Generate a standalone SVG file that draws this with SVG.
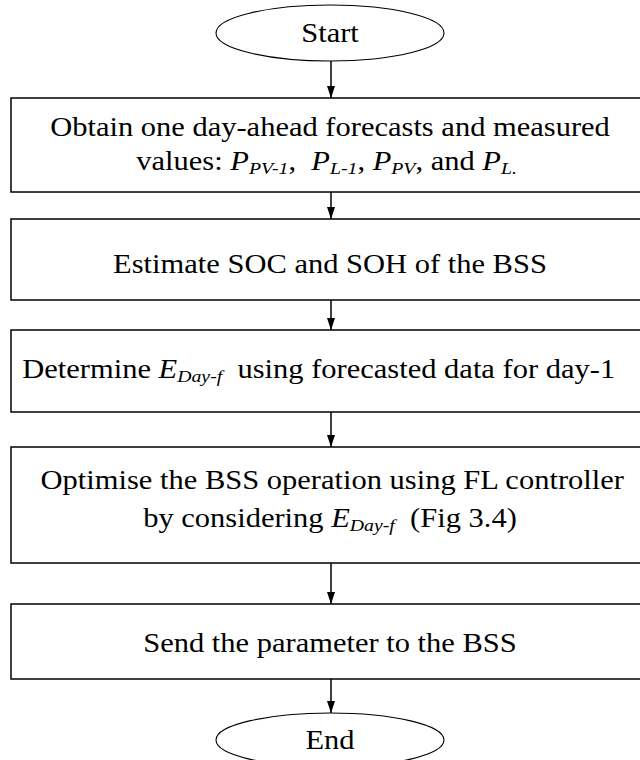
<svg xmlns="http://www.w3.org/2000/svg" width="640" height="760" viewBox="0 0 640 760">
<style>
.box{fill:#fff;stroke:#000;stroke-width:1.5}
.term{fill:#fff;stroke:#000;stroke-width:1.1}
.t{font-family:"Liberation Serif","Times New Roman",serif;font-size:27px;fill:#000;text-anchor:middle}
.i{font-style:italic}
.s{font-style:italic;font-size:17.5px}
.conn line{stroke:#000;stroke-width:1.5}
</style>
<defs>
<marker id="ah" viewBox="0 0 12 8" refX="12" refY="4" markerWidth="12" markerHeight="8" markerUnits="userSpaceOnUse" orient="auto">
<path d="M0,0 L12,4 L0,8 z" fill="#000"/>
</marker>
</defs>
<rect width="640" height="760" fill="#fff"/>
<g id="start">
<ellipse class="term" cx="330" cy="33" rx="114" ry="28"/>
<text class="t" x="330" y="42" transform="matrix(1.13,0,0,1,-42.9,0)">Start</text>
</g>
<g id="obtain">
<rect class="box" x="11" y="98" width="640" height="94"/>
<text class="t" x="330" y="136" transform="matrix(1.13,0,0,1,-42.9,0)">Obtain one day-ahead forecasts and measured</text>
<text class="t" x="327" y="170" transform="matrix(1.13,0,0,1,-42.9,0)">values: <tspan class="i">P</tspan><tspan class="s" dy="4.5">PV-1</tspan><tspan dy="-4.5">,&#160; </tspan><tspan class="i">P</tspan><tspan class="s" dy="4.5">L-1</tspan><tspan dy="-4.5">, </tspan><tspan class="i">P</tspan><tspan class="s" dy="4.5">PV</tspan><tspan dy="-4.5">, and </tspan><tspan class="i">P</tspan><tspan class="s" dy="4.5">L.</tspan></text>
</g>
<g id="estimate">
<rect class="box" x="11" y="219" width="640" height="81"/>
<text class="t" x="330" y="273" transform="matrix(1.13,0,0,1,-42.9,0)">Estimate SOC and SOH of the BSS</text>
</g>
<g id="determine">
<rect class="box" x="11" y="330" width="640" height="82"/>
<text class="t" x="320" y="378" transform="matrix(1.13,0,0,1,-42.9,0)">Determine <tspan class="i">E</tspan><tspan class="s" dy="4.5">Day-f</tspan><tspan dy="-4.5">&#160; using forecasted data for day-1</tspan></text>
</g>
<g id="optimise">
<rect class="box" x="11" y="447" width="640" height="116"/>
<text class="t" x="332" y="489" transform="matrix(1.13,0,0,1,-42.9,0)">Optimise the BSS operation using FL controller</text>
<text class="t" x="330" y="527" transform="matrix(1.13,0,0,1,-42.9,0)">by considering <tspan class="i">E</tspan><tspan class="s" dy="4.5">Day-f</tspan><tspan dy="-4.5">&#160; (Fig 3.4)</tspan></text>
</g>
<g id="send">
<rect class="box" x="11" y="604" width="640" height="75"/>
<text class="t" x="330" y="652" transform="matrix(1.13,0,0,1,-42.9,0)">Send the parameter to the BSS</text>
</g>
<g id="end">
<ellipse class="term" cx="330" cy="740" rx="114" ry="27"/>
<text class="t" x="330" y="749" transform="matrix(1.13,0,0,1,-42.9,0)">End</text>
</g>
<g class="conn">
<line x1="331" y1="61" x2="331" y2="98" marker-end="url(#ah)"/>
<line x1="331" y1="192" x2="331" y2="219" marker-end="url(#ah)"/>
<line x1="331" y1="300" x2="331" y2="330" marker-end="url(#ah)"/>
<line x1="331" y1="412" x2="331" y2="447" marker-end="url(#ah)"/>
<line x1="331" y1="563" x2="331" y2="604" marker-end="url(#ah)"/>
<line x1="331" y1="679" x2="331" y2="713" marker-end="url(#ah)"/>
</g>
</svg>
